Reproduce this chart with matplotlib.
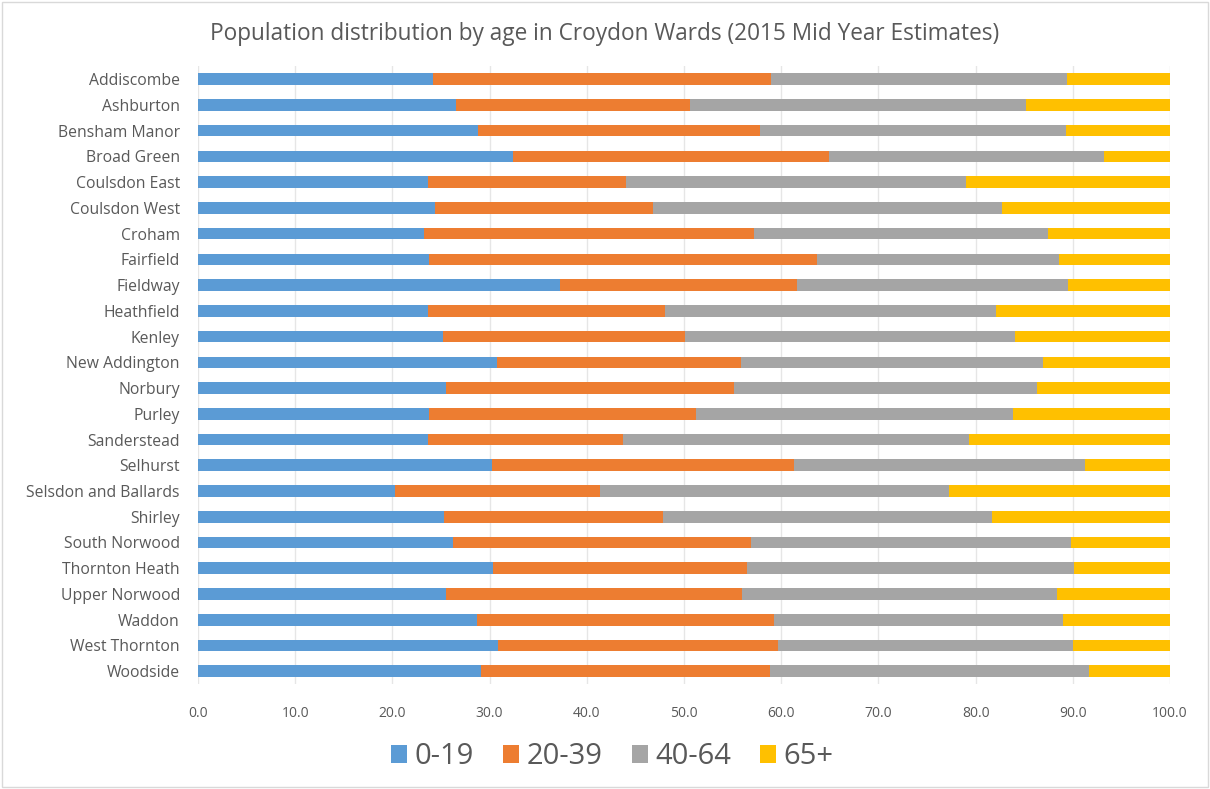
import numpy as np
import matplotlib.pyplot as plt
from matplotlib.patches import Rectangle

# ward names, top to bottom
wards = ['Addiscombe', 'Ashburton', 'Bensham Manor', 'Broad Green', 'Coulsdon East',
         'Coulsdon West', 'Croham', 'Fairfield', 'Fieldway', 'Heathfield', 'Kenley',
         'New Addington', 'Norbury', 'Purley', 'Sanderstead', 'Selhurst',
         'Selsdon and Ballards', 'Shirley', 'South Norwood', 'Thornton Heath',
         'Upper Norwood', 'Waddon', 'West Thornton', 'Woodside']

# % of population in each age band
age_0_19 = [24.2, 26.5, 28.8, 32.4, 23.7, 24.4, 23.3, 23.8, 37.2, 23.7, 25.2, 30.8,
            25.5, 23.8, 23.7, 30.2, 20.3, 25.3, 26.2, 30.3, 25.5, 28.7, 30.9, 29.1]
age_20_39 = [34.7, 24.1, 29.0, 32.5, 20.3, 22.4, 33.9, 39.9, 24.4, 24.3, 24.9, 25.1,
             29.6, 27.4, 20.0, 31.1, 21.1, 22.5, 30.7, 26.2, 30.5, 30.6, 28.8, 29.7]
age_40_64 = [30.5, 34.6, 31.5, 28.3, 35.0, 35.9, 30.2, 24.9, 27.9, 34.1, 33.9, 31.0,
             31.2, 32.6, 35.6, 30.0, 35.9, 33.9, 32.9, 33.6, 32.4, 29.7, 30.3, 32.9]
age_65_plus = [10.6, 14.8, 10.7, 6.8, 21.0, 17.3, 12.6, 11.4, 10.5, 17.9, 16.0, 13.1,
               13.7, 16.2, 20.7, 8.7, 22.7, 18.3, 10.2, 9.9, 11.6, 11.0, 10.0, 8.3]

series = [('0-19', age_0_19, '#5B9BD5'),
          ('20-39', age_20_39, '#ED7D31'),
          ('40-64', age_40_64, '#A5A5A5'),
          ('65+', age_65_plus, '#FFC000')]

plt.rcParams['font.family'] = ['Open Sans', 'DejaVu Sans']
text_col = '#595959'

fig = plt.figure(figsize=(12.1, 7.89), dpi=100)
ax = fig.add_axes([0.1636, 0.133, 0.8034, 0.783])

y = np.arange(len(wards))
left = np.zeros(len(wards))
for name, vals, col in series:
    ax.barh(y, vals, left=left, height=0.45, color=col, label=name, zorder=3)
    left += np.array(vals)

ax.set_ylim(len(wards) - 0.5, -0.5)
ax.set_yticks(y)
ax.set_yticklabels(wards, fontsize=11.3, color=text_col)
ax.set_xlim(0, 100)
ax.set_xticks(np.arange(0, 101, 10))
ax.set_xticklabels([f'{v:.1f}' for v in np.arange(0, 101, 10)], fontsize=10, color=text_col)
ax.tick_params(length=0)
ax.tick_params(axis='x', pad=16)
ax.tick_params(axis='y', pad=13)
ax.grid(axis='x', color='#E6E6E6', linewidth=1, zorder=0)
for s in ax.spines.values():
    s.set_visible(False)

fig.suptitle('Population distribution by age in Croydon Wards (2015 Mid Year Estimates)',
             y=0.972, fontsize=16.3, color=text_col)

fig.legend(loc='center', bbox_to_anchor=(0.506, 0.041), ncol=4, frameon=False,
           fontsize=21, handlelength=0.55, handleheight=0.55, handletextpad=0.25,
           columnspacing=1.0, labelcolor=text_col)

fig.patches.append(Rectangle((0.002, 0.002), 0.996, 0.996, transform=fig.transFigure,
                             fill=False, edgecolor='#D9D9D9', linewidth=1))

fig.savefig('out.png', dpi=100)
